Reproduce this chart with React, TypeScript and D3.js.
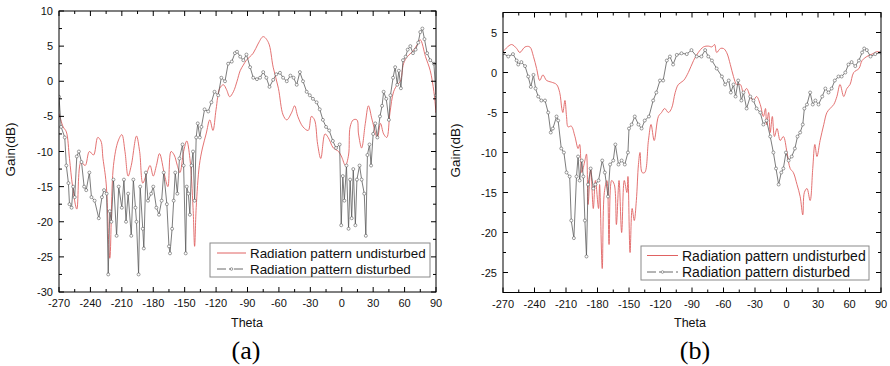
import React from "react";
import * as d3 from "d3";

// ---------- DATA ----------
// Panel (a) – undisturbed
const thetaAUndist = [-270,-266,-263,-260,-257,-253,-249,-245,-241,-237,-233,-230,-228,-225,-221.5,-218,-213.5,-210,-207,-204,-201,-196,-193,-190,-186,-183,-180,-177,-174,-169,-166,-163,-160,-157,-154.5,-151,-148,-145,-142,-140.5,-139,-136,-133,-129.5,-126,-123,-120,-116.5,-113,-110,-107,-103.5,-100,-97,-94,-91,-84.5,-80,-75,-70,-65.5,-60.5,-56,-52.5,-48,-45,-42,-37,-32,-29,-26,-23,-20,-16,-13,-8,-3,0,3.5,6.5,8,11,14.5,16,19,22.5,25.5,29,34,37,40,43,46,49.5,53,56,59,62.5,66,69,72,75,80,84.5,88,90];
const gainAUndist = [-4.6,-6.5,-7.2,-11,-15,-18.2,-11.5,-12,-10,-10.5,-8,-8.5,-11,-14.5,-25.2,-12,-8.5,-7.6,-10,-13.5,-12,-7.8,-10,-14.5,-13,-12,-13.5,-12,-10.3,-13.5,-15,-10,-10.5,-12,-13,-10,-8.5,-11,-18,-23.5,-18,-12,-9.5,-7.5,-5.5,-7,-4,-1,-0.5,-1.2,-2.2,-1.5,0,1.5,2.3,3.0,4.0,5.3,6.35,5.5,2,-1.0,-4.8,-5.5,-4.5,-3.5,-5,-6.5,-7,-5,-5.5,-9,-11,-7.5,-8,-9.5,-10,-10.8,-12,-10.5,-6.5,-5.5,-5.5,-7.5,-9.5,-6,-3.5,-5.5,-8,-6,-7.5,-8,-4.5,-1.5,-0.5,0,2.5,3.5,4,4.5,5.2,5.9,3.5,1.5,-1.5,-4.5];

// Panel (a) – disturbed
const thetaADist = [-270,-268,-264.5,-263,-261,-260,-258,-256.5,-255,-253,-251,-248.5,-246,-244,-241,-239,-236,-232,-229,-227,-224.5,-223,-221.5,-220,-218,-215,-213,-210,-208,-206,-204,-201,-199,-197,-196,-194,-192.5,-190,-189,-187,-185,-182,-180,-177,-174.5,-172,-170,-167,-165,-164,-162,-160.5,-159,-157,-155,-152,-151,-149,-148,-146.5,-145,-143.5,-142,-140.5,-139,-137.5,-135.5,-134,-131,-127.5,-124.5,-121.5,-118,-115,-111.5,-108.5,-105,-102,-100,-97,-94,-91,-87.5,-84.5,-81,-78,-75,-72,-69,-65.5,-62.5,-59,-56,-52.5,-49,-46,-43,-40,-37,-33.5,-30.5,-27.5,-24,-21,-18,-15,-12,-8.5,-5.5,-2,-0.5,1,2.5,4.5,6.5,8,9.5,11,13,14.5,17,19,21.5,23,24.5,26.5,28,30,32,34,36.5,38.5,40,42.5,45,46.5,49,51,53,54.5,56.5,58.5,61,63,65.5,68,70.5,73,75,77,79,81.5,84.5,88,90];
const gainADist = [-2.2,-6.5,-8,-12,-14.5,-17.5,-18,-15,-16.5,-10.7,-10,-11.5,-15,-15.5,-13,-16.5,-17,-19.5,-16.5,-15.5,-16,-27.5,-18.5,-20,-14,-22,-15,-18,-14,-20,-16,-22,-14,-18,-20,-27.5,-15,-21,-23.8,-13,-17,-16,-15,-18,-19,-17,-13,-17.5,-23.5,-24.5,-21,-17,-13,-16,-11,-9,-12,-24.5,-15,-16,-19,-12,-10,-17,-8,-6,-8,-6.5,-4,-4.3,-3,-1.5,-2,0.5,0,2.5,2.8,4.0,4.2,3.5,3,3.8,2,0.5,0.3,0.5,1.3,0.5,-0.8,0.2,1.0,1.2,0.5,0,0.8,0.5,-0.5,1.3,0,-1.5,-2.0,-2.5,-3.0,-4.0,-5.5,-6.5,-7.0,-8.5,-9.5,-9.0,-20.5,-13.5,-17,-12,-21,-14,-19.5,-12.5,-20.5,-14,-12,-14,-16,-22,-10.5,-9,-12,-7.5,-6,-8,-5,-3.5,-1.5,-2.5,-5.5,-2,0.5,2.0,-0.5,1.5,-1,3,3.5,4.5,5.0,4.0,4.5,5.5,7.0,7.5,6,4,3,2.5,-2];

// Panel (b) – undisturbed
const thetaBUndist = [-270,-262,-257,-254,-249,-244.5,-241,-238,-235,-232,-228.5,-224,-219,-216,-214,-213,-211,-209.5,-208,-205,-201.5,-198.5,-197,-195,-192,-190.5,-189,-186.5,-184,-182,-179,-178,-175.5,-173.5,-171,-169,-166.5,-164,-162,-159.5,-157,-154.5,-152,-151,-149,-147,-145,-143,-141,-139.5,-137.5,-135,-131.5,-129,-126,-122,-119,-116,-112.5,-109.5,-106,-103,-98,-93.5,-88.5,-84,-79,-74.5,-71,-68.5,-66.5,-63,-60,-57,-53.5,-50.5,-47.5,-44,-41,-38,-34.5,-31.5,-28.5,-25,-22,-20,-19,-17,-15.5,-13.5,-11.5,-9,-6,-3,0.5,3.5,6.5,10,13,15.5,17,19.5,22.5,25,27,29,32,35.5,38.5,41.5,45,48,51,54.5,57.5,60.5,64,69,72,76.5,81.5,86,90];
const gainBUndist = [2.6,3.5,3.0,2.5,3.2,3.2,2.0,0.5,-1.0,-0.3,-1.0,-1.2,-1.5,-2.5,-4.5,-5.0,-3.5,-5.5,-6.8,-6.7,-8,-9.5,-9,-12.5,-11,-10.2,-16.5,-12,-17,-13.5,-17,-14,-24.5,-15,-13.5,-21.5,-13.5,-14,-19,-13.5,-20,-13.5,-15,-13,-22.5,-17,-18.5,-16,-11.5,-10,-12.5,-12.5,-8.5,-6.5,-8.5,-5.5,-5.0,-4.5,-5.0,-4.5,-2.5,-1.5,-1.0,0,1.5,2.5,3.2,3.3,3.2,3.5,2.5,3.0,3.0,2.5,1.0,-0.5,-1.5,-1.5,-2.5,-2.0,-3.0,-3.5,-3.0,-4,-5.5,-4.5,-6.5,-5.0,-7.5,-5.5,-8,-7,-8.5,-8,-10,-12,-12.5,-14,-15.5,-17.8,-15,-14.5,-16,-12,-9,-10.5,-8.5,-6.5,-5,-4.5,-4,-3,-1.5,-3,-2,-1.5,0,0.5,1.5,2,2.3,2.6,2.5];

// Panel (b) – disturbed
const thetaBDist = [-270,-265,-260.5,-257,-255.5,-252.5,-249,-246,-243.5,-241,-239,-236.5,-233.5,-230,-227,-224.5,-222.5,-219,-217.5,-214.5,-212,-209.5,-206.5,-205,-202.5,-200,-198.5,-197,-195,-193.5,-192,-190.5,-189,-186.5,-184,-182,-179,-175.5,-173,-170,-168,-165,-163,-160,-157,-154,-151,-150,-147.5,-144.5,-141,-138,-135,-131,-127,-124,-120.5,-117.5,-114,-111,-108,-104.5,-100,-95,-90.5,-85.5,-81,-77.5,-74.5,-71,-66.5,-61.5,-58.5,-55,-53,-50.5,-48.5,-46,-43,-41,-38,-34.5,-31.5,-28.5,-25,-22,-19,-15.5,-12.5,-10,-7.5,-5,-3,-0.5,2,5,8,10.5,13,15.5,17,19.5,22.5,25,27.5,30.5,34,37,40,43,46,49.5,52.5,56,59,62,65.5,69,72,74,76.5,80,84.5,90];
const gainBDist = [2.4,2.0,2.3,1.5,1.0,1.3,0.8,-0.5,-1.8,-0.3,-2.0,-3.0,-3.5,-3.5,-5,-7.5,-7.0,-5.5,-6,-9.5,-10,-12.5,-13,-18.5,-20.7,-13,-10.5,-13.5,-11,-13,-18.5,-23,-14,-12,-14.5,-14,-13.5,-11,-12.5,-15.5,-11.5,-11,-9,-11.5,-11,-11.5,-10,-7,-6.5,-5.5,-6.5,-7,-6,-5.5,-3.5,-2.5,-1,-1,1.5,2.0,1.0,2.2,2.4,2.3,2.8,2.0,2.0,2.8,2.0,1.5,0.5,-0.5,-1.5,-1.0,-2.5,-1.5,-3.0,-1.0,-3.5,-2.5,-4.5,-3.0,-3.5,-4.5,-5.0,-6.5,-6.0,-8.0,-10.0,-12.0,-14.0,-12.5,-12,-10,-11,-10.5,-9.5,-8,-7.5,-6.5,-4.5,-4,-2.5,-4.0,-3.5,-4.0,-3.0,-2.0,-2.5,-2.0,-1.0,-0.5,-0.5,0,1.0,1.3,0.8,1.5,2.5,3.0,2.8,2.0,2.3,2.5];

const xTicks = [-270,-240,-210,-180,-150,-120,-90,-60,-30,0,30,60,90];
const yTicksA = [10,5,0,-5,-10,-15,-20,-25,-30];
const yTicksB = [5,0,-5,-10,-15,-20,-25];
const seriesLabels = ["Radiation pattern undisturbed", "Radiation pattern disturbed"];
const panelLabels = ["(a)", "(b)"];

const RED = "#e06262";
const GREY = "#5a5a5a";
const FONT = "'Liberation Sans', Arial, sans-serif";

type PanelProps = {
  id: string;
  x0: number; x1: number; y0: number; y1: number;
  yDomain: [number, number]; yTicks: number[];
  tU: number[]; gU: number[]; tD: number[]; gD: number[];
  legend: { x: number; y: number; w: number; h: number; fs: number; r1: number; r2: number; tx: number; sx0: number; sx1: number };
  label: string; labelX: number; thetaX: number; gainX: number;
};

function Panel(p: PanelProps) {
  const x = d3.scaleLinear().domain([-270, 90]).range([p.x0, p.x1]);
  const y = d3.scaleLinear().domain(p.yDomain).range([p.y1, p.y0]);
  const lineU = d3.line<number>().x((_, i) => x(p.tU[i])).y((v) => y(v)).curve(d3.curveCatmullRom.alpha(0.5));
  const lineD = d3.line<number>().x((_, i) => x(p.tD[i])).y((v) => y(v));
  const minorX = d3.range(-255, 90, 30);
  const [ymin, ymax] = p.yDomain;
  const minorY = d3.range(Math.ceil(ymin / 2.5) * 2.5, ymax + 0.01, 2.5).filter((v) => Math.abs(v % 5) > 0.1);
  const L = p.legend;
  const clipId = "clip" + p.id;
  return (
    <g>
      <defs>
        <clipPath id={clipId}>
          <rect x={p.x0} y={p.y0} width={p.x1 - p.x0} height={p.y1 - p.y0} />
        </clipPath>
      </defs>
      <g clipPath={`url(#${clipId})`}>
        <path d={lineU(p.gU) || ""} fill="none" stroke={RED} strokeWidth={0.9} />
        <path d={lineD(p.gD) || ""} fill="none" stroke={GREY} strokeWidth={0.8} />
        {p.gD.map((v, i) => (
          <circle key={i} cx={x(p.tD[i])} cy={y(v)} r={1.5} fill="#fff" stroke={GREY} strokeWidth={0.6} />
        ))}
      </g>
      <rect x={p.x0} y={p.y0} width={p.x1 - p.x0} height={p.y1 - p.y0} fill="none" stroke="#000" strokeWidth={1} />
      {xTicks.map((t) => (
        <g key={"xt" + t}>
          <line x1={x(t)} x2={x(t)} y1={p.y1} y2={p.y1 - 5} stroke="#000" />
          <line x1={x(t)} x2={x(t)} y1={p.y0} y2={p.y0 + 5} stroke="#000" />
          <text x={x(t)} y={p.y1 + 15} textAnchor="middle" fontSize={11} fontFamily={FONT} fill="#111">{t}</text>
        </g>
      ))}
      {minorX.map((t) => (
        <g key={"xm" + t}>
          <line x1={x(t)} x2={x(t)} y1={p.y1} y2={p.y1 - 3} stroke="#000" />
          <line x1={x(t)} x2={x(t)} y1={p.y0} y2={p.y0 + 3} stroke="#000" />
        </g>
      ))}
      {p.yTicks.map((t) => (
        <g key={"yt" + t}>
          <line x1={p.x0} x2={p.x0 + 5} y1={y(t)} y2={y(t)} stroke="#000" />
          <line x1={p.x1} x2={p.x1 - 5} y1={y(t)} y2={y(t)} stroke="#000" />
          <text x={p.x0 - 6} y={y(t) + 4} textAnchor="end" fontSize={11} fontFamily={FONT} fill="#111">{t}</text>
        </g>
      ))}
      {minorY.map((t) => (
        <g key={"ym" + t}>
          <line x1={p.x0} x2={p.x0 + 3} y1={y(t)} y2={y(t)} stroke="#000" />
          <line x1={p.x1} x2={p.x1 - 3} y1={y(t)} y2={y(t)} stroke="#000" />
        </g>
      ))}
      <text transform={`translate(${p.gainX},${(p.y0 + p.y1) / 2 - 2}) rotate(-90)`} textAnchor="middle" fontSize={13.5} fontFamily={FONT} fill="#111">Gain(dB)</text>
      <text x={p.thetaX} y={327} textAnchor="middle" fontSize={12.5} fontFamily={FONT} fill="#111">Theta</text>
      <text x={p.labelX} y={359} textAnchor="middle" fontSize={26} fontFamily="'Liberation Serif', 'Times New Roman', serif" fill="#000">{p.label}</text>
      <rect x={L.x} y={L.y} width={L.w} height={L.h} fill="#fff" stroke="#8a8a8a" strokeWidth={1} />
      <line x1={L.sx0} x2={L.sx1} y1={L.r1} y2={L.r1} stroke={RED} strokeWidth={1} />
      <line x1={L.sx0} x2={L.sx1} y1={L.r2} y2={L.r2} stroke={GREY} strokeWidth={0.9} strokeDasharray="9,3,2,3" />
      <circle cx={(L.sx0 + L.sx1) / 2} cy={L.r2} r={1.3} fill="#fff" stroke={GREY} strokeWidth={0.6} />
      <text x={L.tx} y={L.r1 + L.fs * 0.36} fontSize={L.fs} fontFamily={FONT} fill="#111">{seriesLabels[0]}</text>
      <text x={L.tx} y={L.r2 + L.fs * 0.36} fontSize={L.fs} fontFamily={FONT} fill="#111">{seriesLabels[1]}</text>
    </g>
  );
}

export default function App() {
  return (
    <svg width={890} height={366} style={{ position: "absolute", left: 0, top: 0, background: "#fff" }}>
      <rect width={890} height={366} fill="#fff" />
      <Panel id="A" x0={59} x1={436} y0={11} y1={292} yDomain={[-30, 10]} yTicks={yTicksA}
        tU={thetaAUndist} gU={gainAUndist} tD={thetaADist} gD={gainADist}
        legend={{ x: 210, y: 243, w: 220, h: 34, fs: 13.4, r1: 253, r2: 269, tx: 250, sx0: 217, sx1: 246 }}
        label={panelLabels[0]} labelX={246} thetaX={247} gainX={15} />
      <Panel id="B" x0={503} x1={881} y0={12.5} y1={292.5} yDomain={[-27.5, 7.5]} yTicks={yTicksB}
        tU={thetaBUndist} gU={gainBUndist} tD={thetaBDist} gD={gainBDist}
        legend={{ x: 641, y: 246, w: 228, h: 34, fs: 14, r1: 255.5, r2: 272, tx: 682, sx0: 647, sx1: 678 }}
        label={panelLabels[1]} labelX={695} thetaX={690} gainX={460} />
    </svg>
  );
}
